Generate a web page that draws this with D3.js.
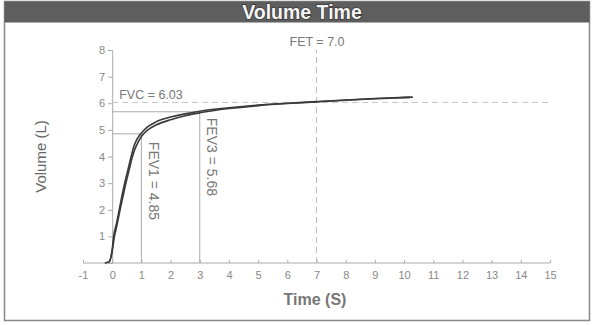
<!DOCTYPE html>
<html>
<head>
<meta charset="utf-8">
<script src="https://cdn.jsdelivr.net/npm/d3@7"></script>
<style>
  body { margin: 0; background: #fff; }
  text { font-family: "Liberation Sans", Arial, sans-serif; }
</style>
</head>
<body>
<div id="chart"></div>
<script>
// trial A (upper curve)
const timeA = [-0.25, -0.1, 0, 0.05, 0.15, 0.25, 0.35, 0.45, 0.55, 0.65, 0.75, 0.85, 1.0, 1.2, 1.5, 2, 2.5, 3, 4, 5, 6, 7, 8, 9, 10, 10.3];
const volA = [0, 0.05, 0.5, 1.0, 1.5, 2.05, 2.6, 3.1, 3.55, 4.0, 4.4, 4.65, 4.88, 5.1, 5.3, 5.48, 5.6, 5.7, 5.83, 5.93, 6.0, 6.06, 6.12, 6.18, 6.22, 6.23];
// trial B (lower curve)
const timeB = [-0.25, -0.1, 0, 0.07, 0.17, 0.27, 0.37, 0.47, 0.57, 0.67, 0.77, 0.87, 1.0, 1.2, 1.5, 2, 2.5, 3, 4, 5, 6, 7, 8, 9, 10, 10.2];
const volB = [0, 0.05, 0.45, 0.95, 1.45, 2.0, 2.5, 3.0, 3.45, 3.9, 4.25, 4.5, 4.75, 4.98, 5.18, 5.38, 5.53, 5.64, 5.8, 5.91, 5.99, 6.05, 6.11, 6.17, 6.21, 6.22];

const xTicks = d3.range(-1, 16);
const yTicks = [1, 2, 3, 4, 5, 6, 7, 8];

const fvc = 6.03;
const fev1 = 4.85;
const fev3 = 5.68;
const fet = 7.0;

const W = 593;
const H = 325;
const margin = { top: 50, right: 43, bottom: 62, left: 83 };
const width = W - margin.left - margin.right;
const height = H - margin.top - margin.bottom;

const svg = d3.select('#chart').append('svg')
  .attr('width', W)
  .attr('height', H);

// frame and title bar
svg.append('rect')
  .attr('x', 4.5).attr('y', 1.5)
  .attr('width', 585).attr('height', 319)
  .attr('fill', '#fff')
  .attr('stroke', '#888')
  .attr('stroke-width', 1.5);

svg.append('rect')
  .attr('x', 4.5).attr('y', 1.5)
  .attr('width', 585).attr('height', 21)
  .attr('fill', '#5e5e5e');

svg.append('text')
  .attr('x', 302).attr('y', 19)
  .attr('text-anchor', 'middle')
  .attr('font-size', 19.5)
  .attr('font-weight', 'bold')
  .attr('fill', '#f4f4f4')
  .attr('stroke', '#3a3a3a')
  .attr('stroke-width', 1.6)
  .attr('paint-order', 'stroke')
  .text('Volume Time');

const g = svg.append('g')
  .attr('transform', `translate(${margin.left}, ${margin.top})`);

const x = d3.scaleLinear().domain([-1, 15]).range([0, width]);
const y = d3.scaleLinear().domain([0, 8]).range([height, 0]);

// axes
const xAxis = g.append('g')
  .attr('transform', `translate(0, ${height})`)
  .call(d3.axisBottom(x).tickValues(xTicks).tickSize(-3).tickPadding(8).tickFormat((d) => String(d)));

const yAxis = g.append('g')
  .attr('transform', `translate(${x(0)}, 0)`)
  .call(d3.axisLeft(y).tickValues(yTicks).tickSize(4).tickPadding(3).tickFormat((d) => String(d)));

[xAxis, yAxis].forEach((ax) => {
  ax.select('.domain').attr('stroke', '#aaa');
  ax.selectAll('.tick line').attr('stroke', '#aaa');
  ax.selectAll('.tick text')
    .attr('fill', '#888')
    .attr('font-size', 11)
    .attr('font-family', '"Liberation Sans", Arial, sans-serif');
});
xAxis.select('.domain').attr('d', `M0,0H${width}`);

// reference lines
const refColor = '#aaa';
g.append('line')
  .attr('x1', x(0)).attr('x2', x(15))
  .attr('y1', y(fvc)).attr('y2', y(fvc))
  .attr('stroke', '#c4c4c4').attr('stroke-dasharray', '6,4');

g.append('line')
  .attr('x1', x(0)).attr('x2', x(3))
  .attr('y1', y(fev3)).attr('y2', y(fev3))
  .attr('stroke', refColor);

g.append('line')
  .attr('x1', x(0)).attr('x2', x(1))
  .attr('y1', y(fev1)).attr('y2', y(fev1))
  .attr('stroke', refColor);

g.append('line')
  .attr('x1', x(1)).attr('x2', x(1))
  .attr('y1', y(0)).attr('y2', y(fev1))
  .attr('stroke', refColor);

g.append('line')
  .attr('x1', x(3)).attr('x2', x(3))
  .attr('y1', y(0)).attr('y2', y(fev3))
  .attr('stroke', refColor);

g.append('line')
  .attr('x1', x(fet)).attr('x2', x(fet))
  .attr('y1', y(0)).attr('y2', y(8))
  .attr('stroke', '#bbb').attr('stroke-dasharray', '6,4');

// curves
const line = d3.line()
  .x((d) => x(d[0]))
  .y((d) => y(d[1]))
  .curve(d3.curveMonotoneX);

[[timeA, volA], [timeB, volB]].forEach(([ts, vs]) => {
  g.append('path')
    .datum(ts.map((t, i) => [t, vs[i]]))
    .attr('fill', 'none')
    .attr('stroke', '#3a3a3a')
    .attr('stroke-width', 1.6)
    .attr('d', line);
});

// annotations
const labelColor = '#777';
g.append('text')
  .attr('x', x(0) + 7).attr('y', y(fvc) - 3)
  .attr('font-size', 12.5).attr('fill', labelColor)
  .text(`FVC = ${fvc.toFixed(2)}`);

g.append('text')
  .attr('x', x(fet) - 27).attr('y', -4)
  .attr('font-size', 12.5).attr('fill', labelColor)
  .text(`FET = ${fet.toFixed(1)}`);

g.append('text')
  .attr('transform', `translate(${x(1) + 8}, ${y(fev1) + 8}) rotate(90)`)
  .attr('font-size', 14).attr('fill', labelColor)
  .text(`FEV1 = ${fev1.toFixed(2)}`);

g.append('text')
  .attr('transform', `translate(${x(3) + 7}, ${y(fev3) + 6}) rotate(90)`)
  .attr('font-size', 14).attr('fill', labelColor)
  .text(`FEV3 = ${fev3.toFixed(2)}`);

// axis titles
svg.append('text')
  .attr('transform', `translate(46, ${margin.top + height / 2}) rotate(-90)`)
  .attr('text-anchor', 'middle')
  .attr('font-size', 15).attr('fill', '#666')
  .text('Volume (L)');

svg.append('text')
  .attr('x', 315).attr('y', 305)
  .attr('text-anchor', 'middle')
  .attr('font-size', 16).attr('font-weight', 'bold').attr('fill', '#777')
  .text('Time (S)');
</script>
</body>
</html>
